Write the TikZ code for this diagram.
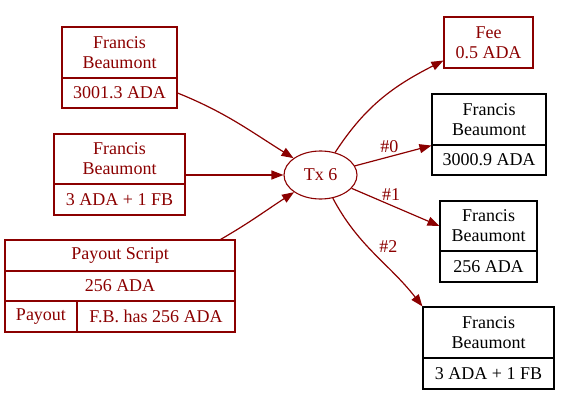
\documentclass[tikz,border=0pt]{standalone}
\usepackage{fontspec}
\setmainfont{Liberation Serif}
\usetikzlibrary{arrows.meta, shapes.geometric}
\definecolor{darkred}{RGB}{139,0,0}

\begin{document}
\begin{tikzpicture}[
    x=1pt, y=1pt,
    font=\fontsize{18}{20}\selectfont,
    cell/.style={
      draw=darkred,
      text=darkred,
      line width=1.1pt,
      inner sep=0pt,
      align=center
    },
    outcell/.style={
      cell,
      draw=black,
      text=black
    },
    edge/.style={
      draw=darkred,
      line width=1.2pt,
      -{Triangle[length=12pt, width=9pt]}
    },
    edgelabel/.style={text=darkred}
  ]
    \useasboundingbox (0,0) rectangle (581,416);

    % inputs
    \begin{scope}
        \node[cell, minimum width=115pt, minimum height=51pt] (inOneName) at (119.5,363.5) {Francis\\Beaumont};
        \node[cell, minimum width=115pt, minimum height=30pt] (inOneValue) at (119.5,323) {3001.3 ADA};

        \node[cell, minimum width=131pt, minimum height=50pt] (inTwoName) at (119.5,257) {Francis\\Beaumont};
        \node[cell, minimum width=131pt, minimum height=31pt] (inTwoValue) at (119.5,216.5) {3 ADA + 1 FB};

        \node[cell, minimum width=230pt, minimum height=31pt] (payHead) at (120,160.5) {Payout Script};
        \node[cell, minimum width=230pt, minimum height=30pt] (payValue) at (120,130) {256 ADA};
        \node[cell, minimum width=72pt, minimum height=31pt] (payKey) at (41,99.5) {Payout};
        \node[cell, minimum width=158pt, minimum height=31pt] (payCond) at (156,99.5) {F.B. has 256 ADA};
    \end{scope}

    % transaction
    \node[
      cell,
      ellipse,
      minimum width=73pt,
      minimum height=48pt
    ] (tx) at (320.5,241) {Tx 6};

    % outputs
    \begin{scope}
        \node[cell, minimum width=89pt, minimum height=51pt] (fee) at (488.5,373.5) {Fee\\0.5 ADA};

        \node[outcell, minimum width=114pt, minimum height=51pt] (outZeroName) at (489,296.5) {Francis\\Beaumont};
        \node[outcell, minimum width=114pt, minimum height=30pt] (outZeroValue) at (489,256) {3000.9 ADA};

        \node[outcell, minimum width=97pt, minimum height=50pt] (outOneName) at (488.5,190) {Francis\\Beaumont};
        \node[outcell, minimum width=97pt, minimum height=31pt] (outOneValue) at (488.5,149.5) {256 ADA};

        \node[outcell, minimum width=131pt, minimum height=51pt] (outTwoName) at (488.5,83.5) {Francis\\Beaumont};
        \node[outcell, minimum width=131pt, minimum height=31pt] (outTwoValue) at (488.5,42.5) {3 ADA + 1 FB};
    \end{scope}

    \draw[edge] (inOneValue.east) to[out=-22, in=148] (tx);
    \draw[edge] (inTwoName.east |- tx) -- (tx);
    \draw[edge] ([xshift=-15pt]payHead.north east) to[out=30, in=213] (tx);

    \draw[edge] (tx) to[out=57, in=207] ([yshift=8pt]fee.south west);
    \draw[edge] (tx) -- (outZeroName.south west)
      node[edgelabel, pos=0.45, above] {\#0};
    \draw[edge] (tx) -- (outOneName.west)
      node[edgelabel, pos=0.45, above=1pt] {\#1};
    \draw[edge] (tx) to[out=-62, in=128]
      node[edgelabel, pos=0.42, right=8pt] {\#2} (outTwoName.north west);
\end{tikzpicture}
\end{document}
